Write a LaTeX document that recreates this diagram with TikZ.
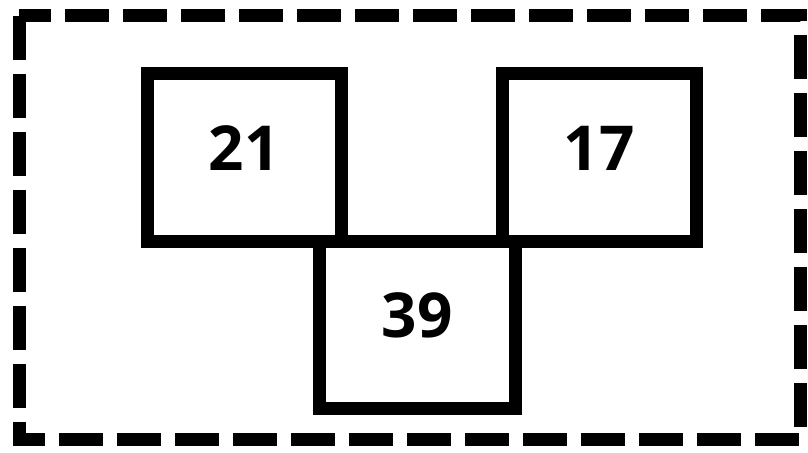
\documentclass[tikz,border=0pt]{standalone}
\usepackage{fontspec}
\setmainfont{Open Sans}
\usetikzlibrary{positioning}
\begin{document}
\begin{tikzpicture}[
    x=0.5pt, y=-0.5pt,
    cell/.style={
        rectangle,
        draw,
        line width=6.5pt,
        minimum width=97pt,
        minimum height=84pt,
        inner sep=0pt,
        outer sep=0pt,
        text depth=10pt,
        font=\fontsize{31}{36}\selectfont\bfseries
    },
    frame/.style={draw, line width=6.5pt, dash pattern=on 22pt off 7pt}
]
\useasboundingbox (0,0) rectangle (808,453);
\draw[frame] (19,16) rectangle (800,440);
\node[cell] (left) at (244,158) {21};
\node[cell] (right) at (599,158) {17};
\node[cell, minimum width=98pt, minimum height=83.5pt] (bottom) at (417,325.5) {39};
\end{tikzpicture}
\end{document}
